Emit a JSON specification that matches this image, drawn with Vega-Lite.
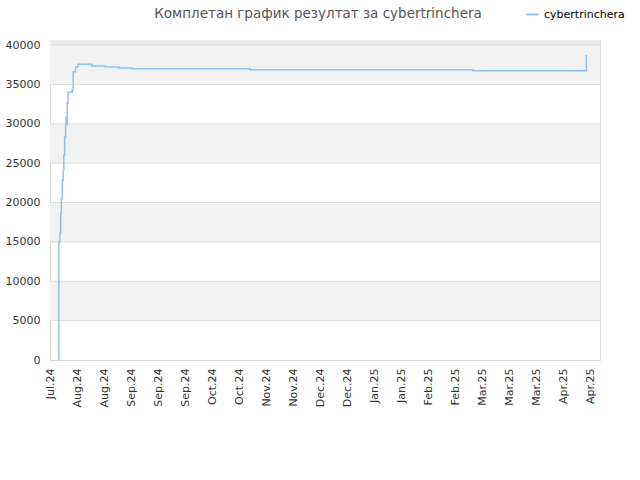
{
  "$schema": "https://vega.github.io/schema/vega-lite/v6.json",
  "width": 550,
  "height": 320,
  "autosize": {"type": "none"},
  "padding": {"left": 50, "top": 40, "right": 40, "bottom": 120},
  "title": {
    "text": "Комплетан график резултат за cybertrinchera",
    "font": "DejaVu Sans",
    "fontSize": 13.5,
    "fontWeight": "normal",
    "color": "#555555",
    "anchor": "middle",
    "offset": -13,
    "dx": -7
  },
  "config": {
    "font": "DejaVu Sans",
    "view": {"stroke": "#d9d9d9"},
    "axisY": {
      "title": null,
      "values": [0, 5000, 10000, 15000, 20000, 25000, 30000, 35000, 40000],
      "format": "d",
      "grid": false,
      "ticks": false,
      "domain": false,
      "labelOverlap": false,
      "labelPadding": 10,
      "labelFontSize": 11,
      "labelColor": "#333333",
      "labelFont": "DejaVu Sans"
    }
  },
  "datasets": {
    "bands": [
      {"lo": 5000, "hi": 10000},
      {"lo": 15000, "hi": 20000},
      {"lo": 25000, "hi": 30000},
      {"lo": 35000, "hi": 40000},
      {"lo": 40000, "hi": 40640}
    ],
    "grid": [
      {"v": 5000}, {"v": 10000}, {"v": 15000}, {"v": 20000},
      {"v": 25000}, {"v": 30000}, {"v": 35000}, {"v": 40000}
    ],
    "score": [
      {"player": "cybertrinchera", "t": "2024-07-25T12:00:00Z", "score": 0},
      {"player": "cybertrinchera", "t": "2024-07-25T14:00:00Z", "score": 15000},
      {"player": "cybertrinchera", "t": "2024-07-26T02:00:00Z", "score": 16100},
      {"player": "cybertrinchera", "t": "2024-07-26T13:00:00Z", "score": 18600},
      {"player": "cybertrinchera", "t": "2024-07-26T21:00:00Z", "score": 20500},
      {"player": "cybertrinchera", "t": "2024-07-27T09:00:00Z", "score": 22800},
      {"player": "cybertrinchera", "t": "2024-07-27T21:00:00Z", "score": 24100},
      {"player": "cybertrinchera", "t": "2024-07-28T04:00:00Z", "score": 26000},
      {"player": "cybertrinchera", "t": "2024-07-28T14:00:00Z", "score": 28300},
      {"player": "cybertrinchera", "t": "2024-07-29T02:00:00Z", "score": 29800},
      {"player": "cybertrinchera", "t": "2024-07-29T08:00:00Z", "score": 30800},
      {"player": "cybertrinchera", "t": "2024-07-29T14:00:00Z", "score": 29900},
      {"player": "cybertrinchera", "t": "2024-07-29T22:00:00Z", "score": 32600},
      {"player": "cybertrinchera", "t": "2024-07-30T08:00:00Z", "score": 34000},
      {"player": "cybertrinchera", "t": "2024-08-01T12:00:00Z", "score": 34300},
      {"player": "cybertrinchera", "t": "2024-08-02T00:00:00Z", "score": 36600},
      {"player": "cybertrinchera", "t": "2024-08-03T06:00:00Z", "score": 37200},
      {"player": "cybertrinchera", "t": "2024-08-04T12:00:00Z", "score": 37550},
      {"player": "cybertrinchera", "t": "2024-08-11T14:00:00Z", "score": 37350},
      {"player": "cybertrinchera", "t": "2024-08-18T12:00:00Z", "score": 37200},
      {"player": "cybertrinchera", "t": "2024-08-25T18:00:00Z", "score": 37080},
      {"player": "cybertrinchera", "t": "2024-09-01T10:00:00Z", "score": 37000},
      {"player": "cybertrinchera", "t": "2024-11-01T16:00:00Z", "score": 36850},
      {"player": "cybertrinchera", "t": "2025-02-25T04:00:00Z", "score": 36720},
      {"player": "cybertrinchera", "t": "2025-04-24T22:00:00Z", "score": 38730}
    ]
  },
  "layer": [
    {
      "data": {"name": "bands"},
      "mark": {"type": "rect"},
      "encoding": {
        "y": {
          "field": "lo",
          "type": "quantitative",
          "scale": {"domain": [0, 40640], "nice": false, "zero": true}
        },
        "y2": {"field": "hi"},
        "color": {
          "condition": {"test": "datum.lo >= 40000", "value": "#ebebeb"},
          "value": "#f2f2f2"
        }
      }
    },
    {
      "data": {"name": "grid"},
      "mark": {"type": "rule", "color": "#dddddd", "strokeWidth": 1},
      "encoding": {
        "y": {"field": "v", "type": "quantitative"}
      }
    },
    {
      "data": {"name": "score"},
      "mark": {"type": "line", "interpolate": "step-after", "strokeWidth": 1.5},
      "encoding": {
        "x": {
          "field": "t",
          "type": "temporal",
          "scale": {
            "type": "utc",
            "domain": [
              {"year": 2024, "month": 7, "date": 21, "utc": true},
              {"year": 2025, "month": 5, "date": 2, "utc": true}
            ]
          },
          "axis": {
            "title": null,
            "values": [
              {"year": 2024, "month": 7, "date": 21, "utc": true},
              {"year": 2024, "month": 8, "date": 4, "utc": true},
              {"year": 2024, "month": 8, "date": 18, "utc": true},
              {"year": 2024, "month": 9, "date": 1, "utc": true},
              {"year": 2024, "month": 9, "date": 15, "utc": true},
              {"year": 2024, "month": 9, "date": 29, "utc": true},
              {"year": 2024, "month": 10, "date": 13, "utc": true},
              {"year": 2024, "month": 10, "date": 27, "utc": true},
              {"year": 2024, "month": 11, "date": 10, "utc": true},
              {"year": 2024, "month": 11, "date": 24, "utc": true},
              {"year": 2024, "month": 12, "date": 8, "utc": true},
              {"year": 2024, "month": 12, "date": 22, "utc": true},
              {"year": 2025, "month": 1, "date": 5, "utc": true},
              {"year": 2025, "month": 1, "date": 19, "utc": true},
              {"year": 2025, "month": 2, "date": 2, "utc": true},
              {"year": 2025, "month": 2, "date": 16, "utc": true},
              {"year": 2025, "month": 3, "date": 2, "utc": true},
              {"year": 2025, "month": 3, "date": 16, "utc": true},
              {"year": 2025, "month": 3, "date": 30, "utc": true},
              {"year": 2025, "month": 4, "date": 13, "utc": true},
              {"year": 2025, "month": 4, "date": 27, "utc": true}
            ],
            "labelExpr": "utcFormat(datum.value, '%b.%y')",
            "labelAngle": -90,
            "labelPadding": 8,
            "labelFontSize": 11,
            "labelColor": "#333333",
            "labelFont": "DejaVu Sans",
            "grid": false,
            "ticks": false,
            "domain": false,
            "labelOverlap": false
          }
        },
        "y": {"field": "score", "type": "quantitative"},
        "color": {
          "field": "player",
          "type": "nominal",
          "scale": {"range": ["#8fc1f2"]},
          "legend": {
            "title": null,
            "orient": "none",
            "legendX": 475,
            "legendY": -33,
            "symbolType": "stroke",
            "symbolStrokeWidth": 2,
            "symbolSize": 150,
            "labelFont": "DejaVu Sans",
            "labelFontSize": 11,
            "labelColor": "#000000"
          }
        }
      }
    }
  ]
}
